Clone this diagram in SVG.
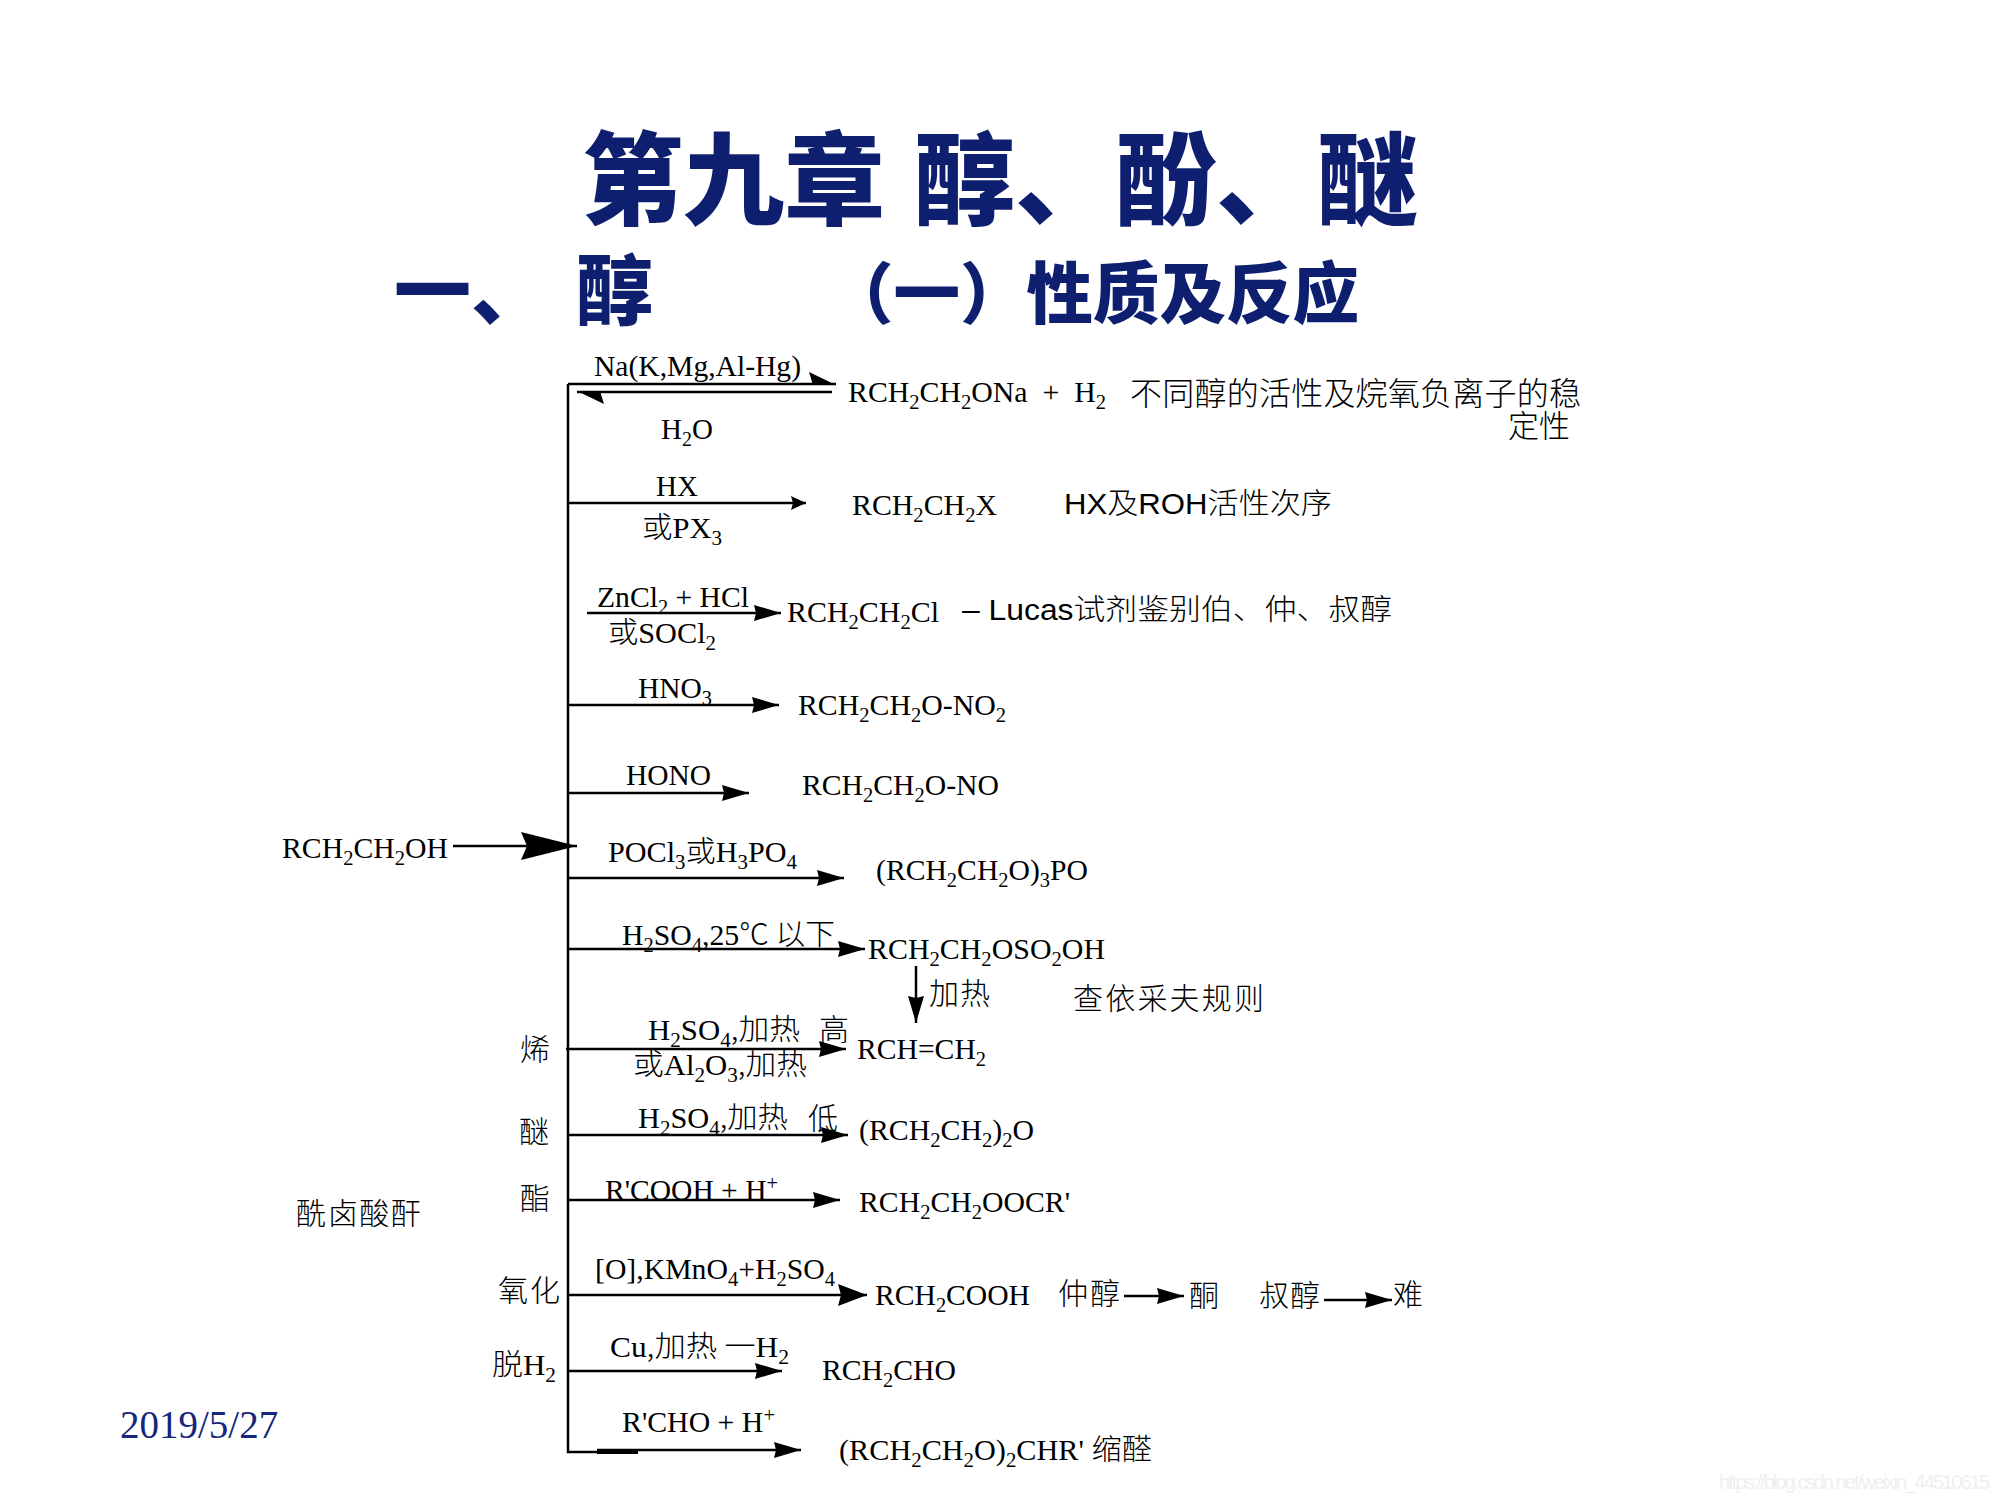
<svg xmlns="http://www.w3.org/2000/svg" width="2000" height="1500" viewBox="0 0 2000 1500">
<style>
text{font-family:"Liberation Serif","Noto Sans CJK SC",serif;font-size:29px;fill:#000}
.s{font-size:20px}
.cj{font-family:"Noto Sans CJK SC",sans-serif;font-weight:300}
.cn{font-family:"Noto Sans CJK SC",sans-serif;font-size:30px;font-weight:300}
.sans{font-family:"Liberation Sans","Noto Sans CJK SC",sans-serif;font-size:29px}
.h{font-family:"Noto Sans CJK SC",sans-serif;font-weight:900;fill:#0f1f70}
.date{font-size:39px;fill:#16267a}
.wm{font-family:"Liberation Sans",sans-serif;font-size:20px;fill:#efefef}
.l{stroke:#000;stroke-width:2.5;fill:none}
.sm{marker-end:url(#as)}.md{marker-end:url(#am)}.lg{marker-end:url(#al)}.xl{marker-end:url(#ax)}.hf{marker-end:url(#up)}
</style>
<defs>
<marker id="as" markerUnits="userSpaceOnUse" markerWidth="20" markerHeight="16" refX="18" refY="8" orient="auto"><path d="M18,8L3,1L5,8L3,15Z"/></marker>
<marker id="am" markerUnits="userSpaceOnUse" markerWidth="30" markerHeight="20" refX="28" refY="10" orient="auto"><path d="M28,10L1,2L3,10L1,18Z"/></marker>
<marker id="al" markerUnits="userSpaceOnUse" markerWidth="32" markerHeight="26" refX="30" refY="13" orient="auto"><path d="M30,13L1,2L4,13L1,24Z"/></marker>
<marker id="ax" markerUnits="userSpaceOnUse" markerWidth="60" markerHeight="32" refX="58" refY="16" orient="auto"><path d="M58,16L2,2L8,16L2,30Z"/></marker>
<marker id="up" markerUnits="userSpaceOnUse" markerWidth="30" markerHeight="16" refX="28" refY="13" orient="auto"><path d="M28,14L1,1L5,14Z"/></marker>
</defs>
<g id="title">
<text class="h" style="font-size:101px" x="582 683 784 885 914 1015 1115 1216 1317" y="217">第九章 醇、酚、醚</text>
<text class="h" style="font-size:77px" x="394 471" y="319">一、</text>
<text class="h" style="font-size:77px" x="576" y="319">醇</text>
<text class="h" style="font-size:66.5px" x="827" y="318">（一）性质及反应</text>
</g>
<g id="connectors">
<path class="l" d="M568,384V1452H638"/>
<path class="l" d="M597,1452H638" style="stroke-width:4"/>
<path class="l hf" d="M568,384H836"/>
<path class="l hf" d="M832,392H577"/>
<path class="l sm" d="M568,503H806"/>
<path class="l md" d="M587,613H781"/>
<path class="l md" d="M568,705H779"/>
<path class="l md" d="M568,793H749"/>
<path class="l xl" d="M453,846H577"/>
<path class="l md" d="M568,878H844"/>
<path class="l md" d="M568,949H865"/>
<path class="l md" d="M566,1049H846"/>
<path class="l md" d="M568,1135H848"/>
<path class="l md" d="M568,1200H840"/>
<path class="l lg" d="M568,1295H867"/>
<path class="l md" d="M568,1371H782"/>
<path class="l md" d="M597,1450H801"/>
<path class="l md" d="M916,966V1023"/>
<path class="l md" d="M1124,1296H1184"/>
<path class="l md" d="M1324,1300H1392"/>
</g>
<g id="start"><text x="282" y="858" textLength="166" lengthAdjust="spacingAndGlyphs">RCH<tspan class="s" dy="7">2</tspan><tspan dy="-7">CH</tspan><tspan class="s" dy="7">2</tspan><tspan dy="-7">OH</tspan></text></g>
<g id="n-na">
<text x="594" y="376" textLength="207" lengthAdjust="spacingAndGlyphs">Na(K,Mg,Al-Hg)</text>
<text x="661" y="439">H<tspan class="s" dy="7">2</tspan><tspan dy="-7">O</tspan></text>
<text x="848" y="402" textLength="258" lengthAdjust="spacingAndGlyphs">RCH<tspan class="s" dy="7">2</tspan><tspan dy="-7">CH</tspan><tspan class="s" dy="7">2</tspan><tspan dy="-7">ONa&#160;&#160;+&#160;&#160;H</tspan><tspan class="s" dy="7">2</tspan></text>
<text class="cn" x="1130" y="405" textLength="451" style="font-size:32px">不同醇的活性及烷氧负离子的稳</text>
<text class="cn" x="1508" y="437" textLength="62" style="font-size:31px">定性</text>
</g>
<g id="n-hx">
<text x="656" y="496">HX</text>
<text x="642" y="538" textLength="80" lengthAdjust="spacingAndGlyphs"><tspan class="cj">或</tspan>PX<tspan class="s" dy="7">3</tspan></text>
<text x="852" y="515" textLength="145" lengthAdjust="spacingAndGlyphs">RCH<tspan class="s" dy="7">2</tspan><tspan dy="-7">CH</tspan><tspan class="s" dy="7">2</tspan><tspan dy="-7">X</tspan></text>
<text class="sans" x="1064" y="514" textLength="268" lengthAdjust="spacingAndGlyphs">HX<tspan class="cj">及</tspan>ROH<tspan class="cj">活性次序</tspan></text>
</g>
<g id="n-lucas">
<text x="597" y="607" textLength="152" lengthAdjust="spacingAndGlyphs">ZnCl<tspan class="s" dy="7">2</tspan><tspan dy="-7"> + HCl</tspan></text>
<text x="608" y="643" textLength="108" lengthAdjust="spacingAndGlyphs"><tspan class="cj">或</tspan>SOCl<tspan class="s" dy="7">2</tspan></text>
<text x="787" y="622" textLength="152" lengthAdjust="spacingAndGlyphs">RCH<tspan class="s" dy="7">2</tspan><tspan dy="-7">CH</tspan><tspan class="s" dy="7">2</tspan><tspan dy="-7">Cl</tspan></text>
<text class="sans" x="962" y="620" textLength="430" lengthAdjust="spacingAndGlyphs">– Lucas<tspan class="cj">试剂鉴别伯、仲、叔醇</tspan></text>
</g>
<g id="n-hno3">
<text x="638" y="698" textLength="74" lengthAdjust="spacingAndGlyphs">HNO<tspan class="s" dy="7">3</tspan></text>
<text x="798" y="715" textLength="208" lengthAdjust="spacingAndGlyphs">RCH<tspan class="s" dy="7">2</tspan><tspan dy="-7">CH</tspan><tspan class="s" dy="7">2</tspan><tspan dy="-7">O-NO</tspan><tspan class="s" dy="7">2</tspan></text>
</g>
<g id="n-hono">
<text x="626" y="785" textLength="85" lengthAdjust="spacingAndGlyphs">HONO</text>
<text x="802" y="795" textLength="197" lengthAdjust="spacingAndGlyphs">RCH<tspan class="s" dy="7">2</tspan><tspan dy="-7">CH</tspan><tspan class="s" dy="7">2</tspan><tspan dy="-7">O-NO</tspan></text>
</g>
<g id="n-pocl3">
<text x="608" y="862" textLength="189" lengthAdjust="spacingAndGlyphs">POCl<tspan class="s" dy="7">3</tspan><tspan class="cj" dy="-7">或</tspan>H<tspan class="s" dy="7">3</tspan><tspan dy="-7">PO</tspan><tspan class="s" dy="7">4</tspan></text>
<text x="876" y="880" textLength="212" lengthAdjust="spacingAndGlyphs">(RCH<tspan class="s" dy="7">2</tspan><tspan dy="-7">CH</tspan><tspan class="s" dy="7">2</tspan><tspan dy="-7">O)</tspan><tspan class="s" dy="7">3</tspan><tspan dy="-7">PO</tspan></text>
</g>
<g id="n-sulf">
<text x="622" y="945" textLength="213" lengthAdjust="spacingAndGlyphs">H<tspan class="s" dy="7">2</tspan><tspan dy="-7">SO</tspan><tspan class="s" dy="7">4</tspan><tspan dy="-7">,25</tspan><tspan class="cj">℃ 以下</tspan></text>
<text x="868" y="959" textLength="237" lengthAdjust="spacingAndGlyphs">RCH<tspan class="s" dy="7">2</tspan><tspan dy="-7">CH</tspan><tspan class="s" dy="7">2</tspan><tspan dy="-7">OSO</tspan><tspan class="s" dy="7">2</tspan><tspan dy="-7">OH</tspan></text>
<text class="cn" x="929" y="1004" textLength="61">加热</text>
<text class="cn" x="1073" y="1009" textLength="191">查依采夫规则</text>
</g>
<g id="n-alkene">
<text class="cn" x="520" y="1060">烯</text>
<text x="648" y="1040" textLength="152" lengthAdjust="spacingAndGlyphs">H<tspan class="s" dy="7">2</tspan><tspan dy="-7">SO</tspan><tspan class="s" dy="7">4</tspan><tspan class="cj" dy="-7">,加热</tspan></text>
<text class="cn" x="819" y="1040">高</text>
<text x="633" y="1075" textLength="174" lengthAdjust="spacingAndGlyphs"><tspan class="cj">或</tspan>Al<tspan class="s" dy="7">2</tspan><tspan dy="-7">O</tspan><tspan class="s" dy="7">3</tspan><tspan class="cj" dy="-7">,加热</tspan></text>
<text x="857" y="1059" textLength="129" lengthAdjust="spacingAndGlyphs">RCH=CH<tspan class="s" dy="7">2</tspan></text>
</g>
<g id="n-ether">
<text class="cn" x="519" y="1142">醚</text>
<text x="638" y="1128" textLength="150" lengthAdjust="spacingAndGlyphs">H<tspan class="s" dy="7">2</tspan><tspan dy="-7">SO</tspan><tspan class="s" dy="7">4</tspan><tspan class="cj" dy="-7">,加热</tspan></text>
<text class="cn" x="808" y="1129">低</text>
<text x="859" y="1140" textLength="175" lengthAdjust="spacingAndGlyphs">(RCH<tspan class="s" dy="7">2</tspan><tspan dy="-7">CH</tspan><tspan class="s" dy="7">2</tspan><tspan dy="-7">)</tspan><tspan class="s" dy="7">2</tspan><tspan dy="-7">O</tspan></text>
</g>
<g id="n-ester">
<text class="cn" x="520" y="1209">酯</text>
<text class="cn" x="296" y="1224" textLength="125">酰卤酸酐</text>
<text x="605" y="1200" textLength="173" lengthAdjust="spacingAndGlyphs">R'COOH + H<tspan class="s" dy="-10">+</tspan></text>
<text x="859" y="1212" textLength="211" lengthAdjust="spacingAndGlyphs">RCH<tspan class="s" dy="7">2</tspan><tspan dy="-7">CH</tspan><tspan class="s" dy="7">2</tspan><tspan dy="-7">OOCR'</tspan></text>
</g>
<g id="n-oxid">
<text class="cn" x="498" y="1301" textLength="62">氧化</text>
<text x="595" y="1279" textLength="240" lengthAdjust="spacingAndGlyphs">[O],KMnO<tspan class="s" dy="7">4</tspan><tspan dy="-7">+H</tspan><tspan class="s" dy="7">2</tspan><tspan dy="-7">SO</tspan><tspan class="s" dy="7">4</tspan></text>
<text x="875" y="1305" textLength="155" lengthAdjust="spacingAndGlyphs">RCH<tspan class="s" dy="7">2</tspan><tspan dy="-7">COOH</tspan></text>
<text class="cn" x="1058" y="1304" textLength="62">仲醇</text>
<text class="cn" x="1189" y="1306">酮</text>
<text class="cn" x="1259" y="1306" textLength="61">叔醇</text>
<text class="cn" x="1393" y="1305">难</text>
</g>
<g id="n-dehyd">
<text x="492" y="1375" textLength="64" lengthAdjust="spacingAndGlyphs"><tspan class="cj">脱</tspan>H<tspan class="s" dy="7">2</tspan></text>
<text x="610" y="1357" textLength="179" lengthAdjust="spacingAndGlyphs">Cu<tspan class="cj">,加热 一</tspan>H<tspan class="s" dy="7">2</tspan></text>
<text x="822" y="1380" textLength="134" lengthAdjust="spacingAndGlyphs">RCH<tspan class="s" dy="7">2</tspan><tspan dy="-7">CHO</tspan></text>
</g>
<g id="n-acetal">
<text x="622" y="1432" textLength="153" lengthAdjust="spacingAndGlyphs">R'CHO + H<tspan class="s" dy="-10">+</tspan></text>
<text x="839" y="1460" textLength="313" lengthAdjust="spacingAndGlyphs">(RCH<tspan class="s" dy="7">2</tspan><tspan dy="-7">CH</tspan><tspan class="s" dy="7">2</tspan><tspan dy="-7">O)</tspan><tspan class="s" dy="7">2</tspan><tspan dy="-7">CHR' </tspan><tspan class="cj">缩醛</tspan></text>
</g>
<g id="footer">
<text class="date" x="120" y="1438">2019/5/27</text>
<text class="wm" x="1719" y="1489" textLength="271">https://blog.csdn.net/weixin_44510615</text>
</g>
</svg>
